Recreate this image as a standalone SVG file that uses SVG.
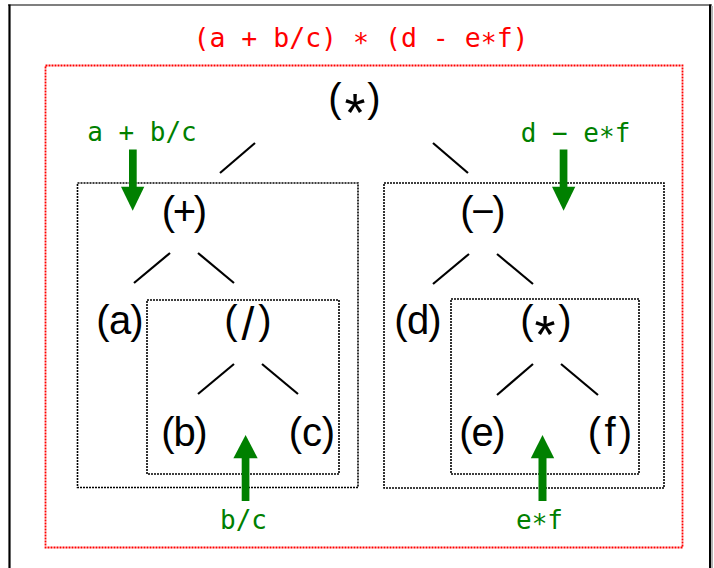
<svg xmlns="http://www.w3.org/2000/svg" width="714" height="568" viewBox="0 0 714 568">
<style>
.node{font-family:"Liberation Sans",Arial,sans-serif;font-size:40px;fill:#000;text-anchor:middle}
.mono{font-family:"DejaVu Sans Mono","Liberation Mono",monospace;font-size:26px;text-anchor:middle}
.title{fill:#ff0000;font-size:26.5px}
.lbl{fill:#008000}
.box{fill:none;stroke:#000;stroke-width:1.6;stroke-dasharray:2 1}
.redbox{fill:none;stroke:#ff0000;stroke-width:1.8;stroke-dasharray:2 1}
.edge{stroke:#000;stroke-width:2.2;stroke-linecap:butt}
.arr{fill:#008000}
.star{font-size:54px}
</style>
<rect x="0" y="0" width="714" height="568" fill="#fff"/>
<g id="frame">
<line x1="8" y1="5" x2="712" y2="5" stroke="#555" stroke-width="1.6"/>
<line x1="9.5" y1="4.5" x2="9.5" y2="570" stroke="#000" stroke-width="2.2"/>
<line x1="710" y1="4.5" x2="710" y2="570" stroke="#000" stroke-width="2"/>
<line x1="712" y1="6" x2="712" y2="570" stroke="#999" stroke-width="1.5"/>
</g>
<g id="title">
<text class="mono title" x="361" y="46.5" xml:space="preserve">(a + b/c) <tspan dy="5">*</tspan><tspan dy="-5"> (d - e</tspan><tspan dy="5">*</tspan><tspan dy="-5">f)</tspan></text>
</g>
<rect id="whole-box" class="redbox" x="45.5" y="65.5" width="637" height="482"/>
<g id="boxes">
<rect id="box-plus" class="box" x="77.5" y="183" width="280.5" height="304.5"/>
<rect id="box-div" class="box" x="147" y="300" width="192" height="174"/>
<rect id="box-minus" class="box" x="384" y="183" width="280" height="305"/>
<rect id="box-mul" class="box" x="451" y="299" width="188" height="175"/>
</g>
<g id="connectors">
<line class="edge" x1="255" y1="143" x2="220" y2="173"/>
<line class="edge" x1="433" y1="143" x2="468" y2="173"/>
<line class="edge" x1="170" y1="253" x2="134" y2="283"/>
<line class="edge" x1="198" y1="253" x2="234" y2="283"/>
<line class="edge" x1="469" y1="254" x2="433" y2="284"/>
<line class="edge" x1="497" y1="254" x2="533" y2="284"/>
<line class="edge" x1="234" y1="364" x2="198" y2="394"/>
<line class="edge" x1="262" y1="364" x2="298" y2="394"/>
<line class="edge" x1="533" y1="364" x2="497" y2="395"/>
<line class="edge" x1="561" y1="364" x2="598" y2="395"/>
</g>
<g id="node-root"><text class="node" x="335 355 374" y="112">(<tspan class="star" dy="19">*</tspan><tspan dy="-19">)</tspan></text></g>
<g id="node-plus"><text class="node" x="168.5 184.5 200.5" y="225">(+)</text></g>
<g id="node-minus"><text class="node" x="467 483 499" y="225">(−)</text></g>
<g id="node-a"><text class="node" x="103 120 137" y="334">(a)</text></g>
<g id="node-div"><text class="node" x="231 248 265" y="334">(<tspan font-size="46" dy="6">/</tspan><tspan dy="-6">)</tspan></text></g>
<g id="node-d"><text class="node" x="401 418 435" y="334">(d)</text></g>
<g id="node-mul"><text class="node" x="527 545 565" y="334">(<tspan class="star" dy="19">*</tspan><tspan dy="-19">)</tspan></text></g>
<g id="node-b"><text class="node" x="168 184.5 201" y="446">(b)</text></g>
<g id="node-c"><text class="node" x="295.5 312 328.5" y="446">(c)</text></g>
<g id="node-e"><text class="node" x="466 482.5 499" y="446">(e)</text></g>
<g id="node-f"><text class="node" x="594.5 610 625.5" y="446">(f)</text></g>
<g id="label-left">
<text class="mono lbl" x="142" y="141" xml:space="preserve">a + b/c</text>
<rect class="arr" x="129" y="149.5" width="7.7" height="38"/>
<polygon class="arr" points="121,186.7 144.3,186.7 132.7,210.7"/>
</g>
<g id="label-right">
<text class="mono lbl" x="575.5" y="142" xml:space="preserve">d − e<tspan dy="4">*</tspan><tspan dy="-4">f</tspan></text>
<rect class="arr" x="559.7" y="149.5" width="7.7" height="38"/>
<polygon class="arr" points="552,186.7 575.3,186.7 563.6,210.7"/>
</g>
<g id="label-bc">
<rect class="arr" x="241.7" y="457" width="7.7" height="44"/>
<polygon class="arr" points="245.6,435 233.4,458.3 257.7,458.3"/>
<text class="mono lbl" x="243.5" y="529">b/c</text>
</g>
<g id="label-ef">
<rect class="arr" x="538.5" y="457" width="8" height="44"/>
<polygon class="arr" points="542.5,435 530.8,458.3 554.2,458.3"/>
<text class="mono lbl" x="539.5" y="529">e<tspan dy="4">*</tspan><tspan dy="-4">f</tspan></text>
</g>
</svg>
